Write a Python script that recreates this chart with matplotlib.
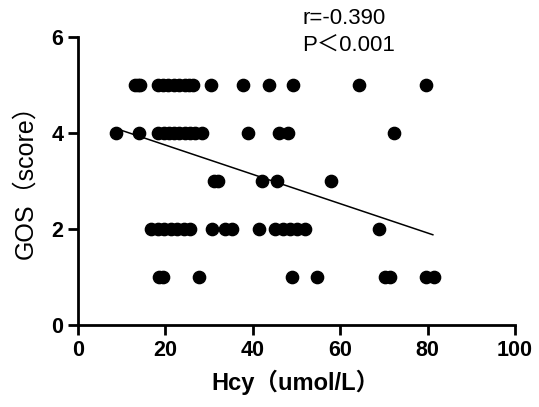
import numpy as np
import matplotlib.pyplot as plt

plt.rcParams['font.family'] = ['Liberation Sans', 'Noto Sans CJK SC', 'DejaVu Sans']

# GOS score rows and the Hcy values
hcy_5 = [13.1, 13.8, 14.3, 18.3, 19.5, 20.7, 22.0, 23.2, 24.4, 25.5, 26.4, 30.5, 37.7, 43.6, 49.2, 64.4, 79.6]
hcy_4 = [8.7, 13.9, 18.3, 19.6, 20.8, 22.0, 23.2, 24.4, 25.6, 26.8, 28.4, 39.0, 45.9, 48.0, 72.3]
hcy_3 = [31.2, 32.0, 42.1, 45.6, 58.0]
hcy_2 = [16.7, 18.2, 19.7, 21.2, 22.7, 24.2, 25.7, 30.7, 33.7, 35.2, 41.5, 45.0, 46.8, 48.5, 50.2, 51.9, 68.8]
hcy_1 = [18.6, 19.5, 27.6, 48.9, 54.7, 70.2, 71.4, 79.7, 81.4]

fit_x = [8.5, 81.2]
fit_y = [4.10, 1.88]

x = np.array(hcy_5 + hcy_4 + hcy_3 + hcy_2 + hcy_1)
y = np.array([5] * len(hcy_5) + [4] * len(hcy_4) + [3] * len(hcy_3) + [2] * len(hcy_2) + [1] * len(hcy_1))

fig = plt.figure(figsize=(5.39, 4.07), dpi=100)
ax = fig.add_axes([0.1447, 0.2015, 0.8108, 0.7075])

ax.scatter(x, y, s=78, color='black', zorder=3, clip_on=False)
ax.plot(fit_x, fit_y, color='black', lw=1.1)

ax.set_xlim(0, 100)
ax.set_ylim(0, 6)
ax.set_xticks([0, 20, 40, 60, 80, 100])
ax.set_yticks([0, 2, 4, 6])
for s in ['top', 'right']:
    ax.spines[s].set_visible(False)
for s in ['left', 'bottom']:
    ax.spines[s].set_linewidth(2)
ax.tick_params(width=2, length=7.5, labelsize=15.5, pad=3)
for lab in ax.get_xticklabels() + ax.get_yticklabels():
    lab.set_fontweight('bold')

ax.set_xlabel('Hcy（umol/L）', fontsize=17, fontweight='bold')
ax.xaxis.set_label_coords(0.497, -0.20)
ax.xaxis.label.set_va('center')
ax.set_ylabel('GOS（score）', fontsize=18)
ax.yaxis.set_label_coords(-0.121, 0.517)
ax.yaxis.label.set_va('center')

fig.text(302 / 539, 1 - 18 / 407, 'r=-0.390', fontsize=16, va='center', ha='left')
fig.text(302 / 539, 1 - 46 / 407, 'P＜0.001', fontsize=16, va='center', ha='left')

fig.savefig('out.png', dpi=100)
